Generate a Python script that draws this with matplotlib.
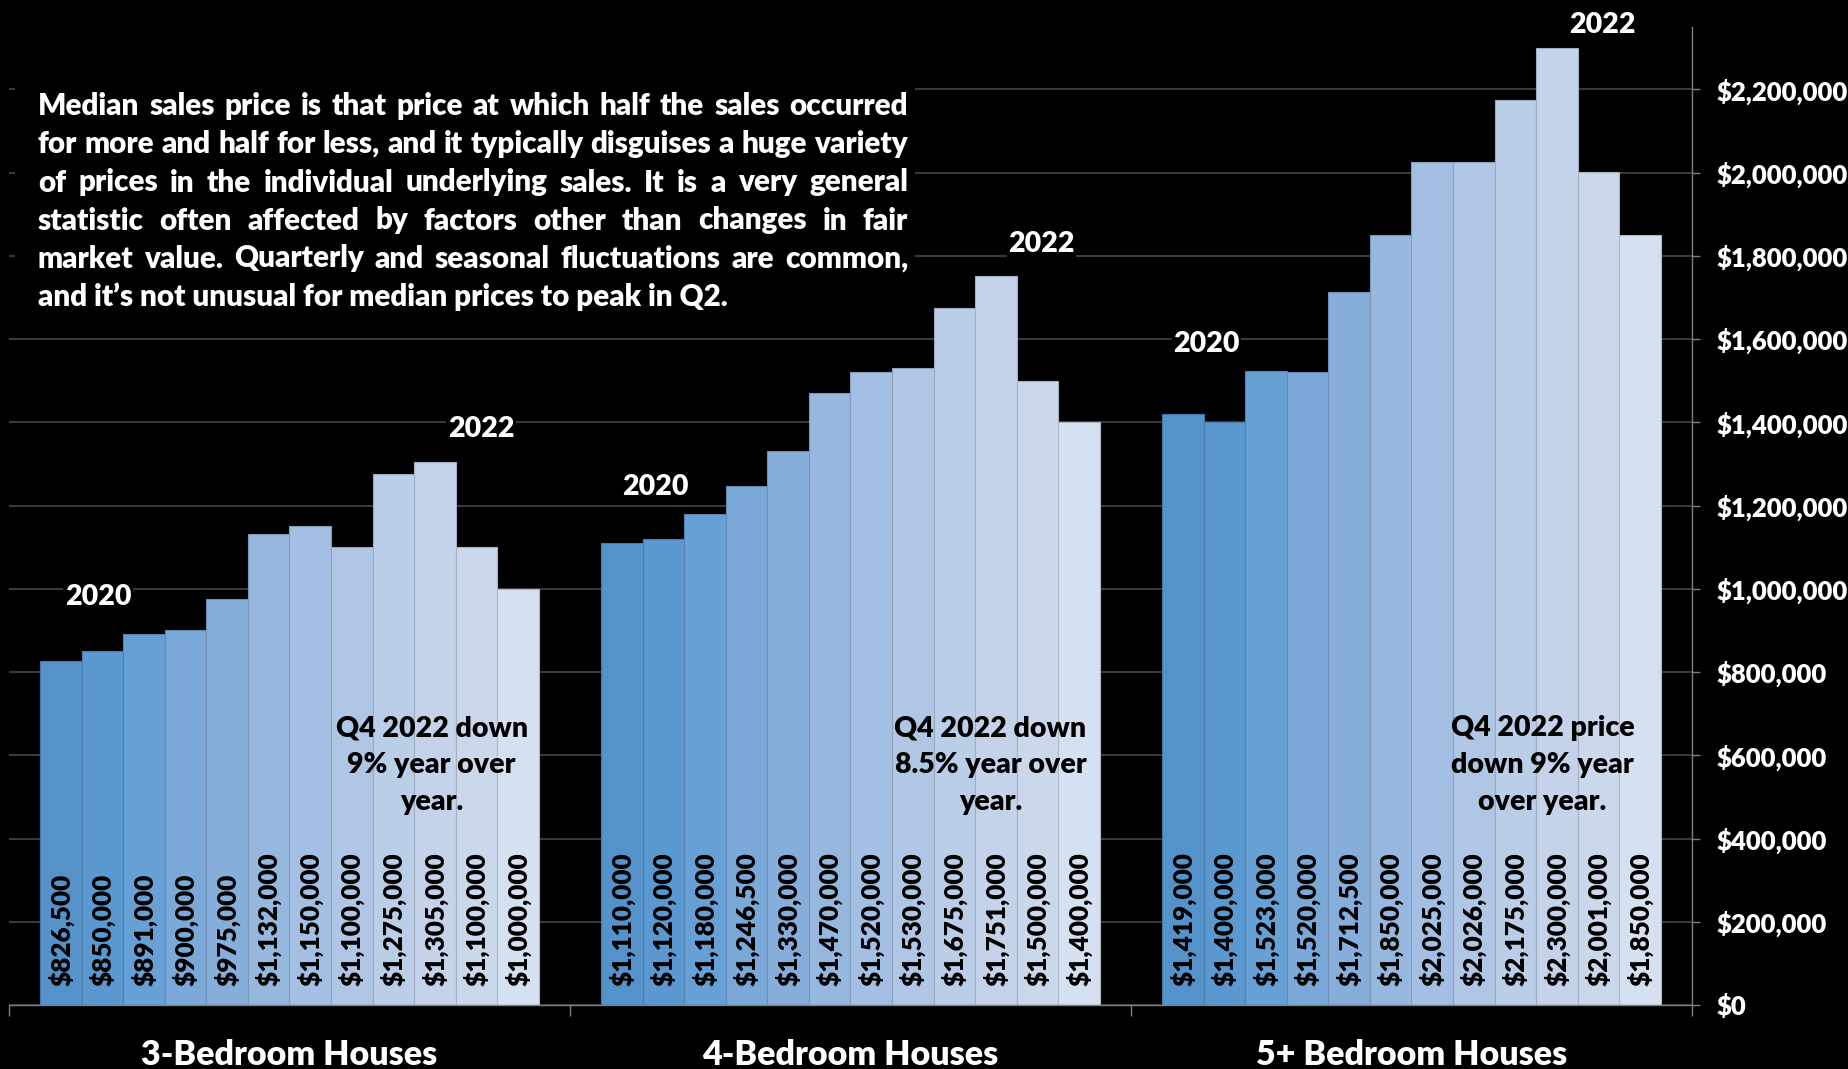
import matplotlib
matplotlib.use("Agg")
import matplotlib.pyplot as plt
import matplotlib.transforms as mtransforms
from matplotlib.patches import Rectangle
from matplotlib.colors import to_rgb

plt.rcParams['font.family'] = ['Lato', 'DejaVu Sans']

groups = ['3-Bedroom Houses', '4-Bedroom Houses', '5+ Bedroom Houses']
three_bed = [826500, 850000, 891000, 900000, 975000, 1132000,
             1150000, 1100000, 1275000, 1305000, 1100000, 1000000]
four_bed = [1110000, 1120000, 1180000, 1246500, 1330000, 1470000,
            1520000, 1530000, 1675000, 1751000, 1500000, 1400000]
five_bed = [1419000, 1400000, 1523000, 1520000, 1712500, 1850000,
            2025000, 2026000, 2175000, 2300000, 2001000, 1850000]
series = [three_bed, four_bed, five_bed]

notes = ["Q4 2022 down\n9% year over\nyear.",
         "Q4 2022 down\n8.5% year over\nyear.",
         "Q4 2022 price\ndown 9% year\nover year."]
note_x = [10.17, 23.62, 36.9]

yticks = list(range(0, 2200001, 200000))

# year markers: (x in bar units, y value, text)
year_marks = [(2.14, 981000, '2020'), (11.36, 1384000, '2022'),
              (15.56, 1245000, '2020'), (24.84, 1829000, '2022'),
              (28.81, 1588000, '2020'), (38.35, 2355000, '2022')]

paragraph = [
    "Median sales price is that price at which half the sales occurred",
    "for more and half for less, and it typically disguises a huge variety",
    "of prices in the individual underlying sales. It is a very general",
    "statistic often affected by factors other than changes in fair",
    "market value. Quarterly and seasonal fluctuations are common,",
    "and it\u2019s not unusual for median prices to peak in Q2.",
]

colors = ['#5592c9', '#5b98d0', '#66a0d5', '#7aa8d8', '#87aedb', '#96b8df',
          '#a3bfe3', '#b0c6e5', '#bbcee8', '#c4d3ea', '#cbd8ec', '#d5e0f1']
edges = [tuple(c * 0.82 for c in to_rgb(col)) for col in colors]

WT = 'heavy'
W, H = 1849, 1069
fig = plt.figure(figsize=(W / 100, H / 100), dpi=100, facecolor='black')
ax = fig.add_axes([9 / W, 64 / H, (1692 - 9) / W, (1042 - 64) / H])
ax.set_facecolor('black')

span = 13.5
for g, vals in enumerate(series):
    xs = [g * span + 0.75 + i + 0.5 for i in range(len(vals))]
    ax.bar(xs, vals, width=1.0, color=colors, edgecolor=edges, linewidth=0.8, zorder=2)
    for x, v in zip(xs, vals):
        ax.annotate(f"${v:,.0f}", (x, 0), xytext=(0, 14), textcoords='offset points',
                    rotation=90, ha='center', va='bottom', fontsize=18.8,
                    fontweight=WT, color='black', zorder=4)
    ax.text(note_x[g], 576000, notes[g], ha='center', va='center', fontsize=20.5,
            fontweight=WT, color='black', linespacing=1.52, zorder=4)

for x, y, t in year_marks:
    ax.text(x, y, t, ha='center', va='center', fontsize=20.5, fontweight=WT,
            color='white', clip_on=False, zorder=5,
            bbox=dict(facecolor='black', edgecolor='none', pad=1))

ax.set_xlim(0, 3 * span)
ax.set_ylim(0, 2350000)
ax.set_xticks([0, span, 2 * span, 3 * span])
ax.set_xticklabels([])
ax.tick_params(axis='x', direction='out', length=8, width=1, color='#808080')

ax.yaxis.tick_right()
ax.set_yticks(yticks)
ax.set_yticklabels([f"${v:,.0f}" for v in yticks])
for lb in ax.get_yticklabels():
    lb.set_fontsize(18.5)
    lb.set_fontweight(WT)
    lb.set_color('white')
ax.tick_params(axis='y', direction='out', length=6, width=1, color='#808080', pad=12)
ax.grid(axis='y', color='#454545', linewidth=1.2, zorder=0)
ax.set_axisbelow(True)

for s in ['left', 'top']:
    ax.spines[s].set_visible(False)
for s in ['right', 'bottom']:
    ax.spines[s].set_color('#808080')
    ax.spines[s].set_linewidth(1)

trans = mtransforms.blended_transform_factory(ax.transData, fig.transFigure)
for g, name in enumerate(groups):
    ax.text(g * span + span / 2, (H - 1055) / H, name, transform=trans,
            ha='center', va='center', fontsize=24.5, fontweight=WT, color='white')

# black box behind the paragraph (covers the gridlines like the original text box)
fig.patches.append(Rectangle((15 / W, (H - 325) / H), 900 / W, 270 / H,
                             transform=fig.transFigure, facecolor='black',
                             edgecolor='none', zorder=1))

# justified paragraph
fig.canvas.draw()
r = fig.canvas.get_renderer()
x0, x1 = 38, 908
base = [115, 153, 191.5, 229.5, 267.5, 306]


def width_px(s, fs):
    t = fig.text(0, 0, s, fontsize=fs, fontweight=WT)
    w = t.get_window_extent(r).width
    t.remove()
    return w


fs = 20
widest = max(width_px(l, fs) for l in paragraph[:-1])
fs = fs * (x1 - x0 - 4) / widest

for i, line in enumerate(paragraph):
    y = (H - base[i]) / H
    if i == len(paragraph) - 1:
        fig.text(x0 / W, y, line, fontsize=fs, fontweight=WT, color='white',
                 va='baseline', zorder=3)
        continue
    words = line.split()
    ws = [width_px(w, fs) for w in words]
    gap = (x1 - x0 - sum(ws)) / (len(words) - 1)
    x = x0
    for w, wd in zip(words, ws):
        fig.text(x / W, y, w, fontsize=fs, fontweight=WT, color='white',
                 va='baseline', zorder=3)
        x += wd + gap

fig.savefig('out.png', dpi=100, facecolor='black')
